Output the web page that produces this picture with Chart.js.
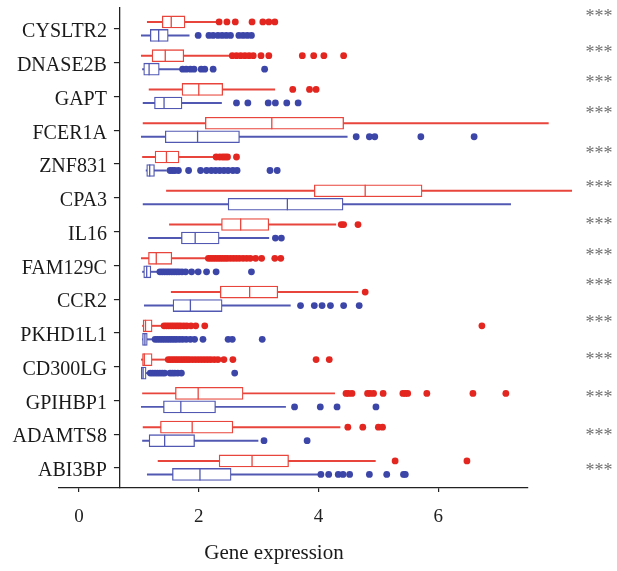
<!DOCTYPE html>
<html>
<head>
<meta charset="utf-8">
<script src="https://cdn.jsdelivr.net/npm/chart.js@4.4.1/dist/chart.umd.min.js"></script>
<style>
  body { margin: 0; background: #fff; }
  #wrap { width: 617px; height: 571px; position: relative; }
</style>
</head>
<body>
<div id="wrap"><canvas id="chart"></canvas></div>
<script>
// Genes, top to bottom
const genes = ['CYSLTR2', 'DNASE2B', 'GAPT', 'FCER1A', 'ZNF831', 'CPA3', 'IL16',
  'FAM129C', 'CCR2', 'PKHD1L1', 'CD300LG', 'GPIHBP1', 'ADAMTS8', 'ABI3BP'];

// [whisker low, Q1, median, Q3, whisker high]
const redStats = [
  [1.14, 1.39, 1.54, 1.77, 2.29],
  [1.04, 1.22, 1.44, 1.75, 2.52],
  [1.17, 1.72, 2.00, 2.40, 3.27],
  [1.07, 2.11, 3.22, 4.42, 7.84],
  [1.06, 1.27, 1.46, 1.67, 2.24],
  [1.46, 3.93, 4.78, 5.73, 8.23],
  [1.51, 2.38, 2.70, 3.17, 4.29],
  [1.04, 1.16, 1.29, 1.55, 2.13],
  [1.54, 2.36, 2.85, 3.32, 4.66],
  [1.06, 1.07, 1.11, 1.22, 1.39],
  [1.04, 1.06, 1.09, 1.22, 1.46],
  [1.06, 1.61, 1.99, 2.74, 4.27],
  [1.07, 1.36, 1.89, 2.57, 4.36],
  [1.32, 2.34, 2.89, 3.50, 4.95]
];
const blueStats = [
  [1.04, 1.19, 1.33, 1.49, 1.84],
  [1.06, 1.08, 1.17, 1.34, 1.68],
  [1.07, 1.26, 1.42, 1.72, 2.38],
  [1.04, 1.44, 1.98, 2.68, 4.48],
  [1.12, 1.13, 1.18, 1.26, 1.46],
  [1.07, 2.49, 3.48, 4.41, 7.21],
  [1.16, 1.71, 1.94, 2.34, 3.17],
  [1.06, 1.08, 1.13, 1.20, 1.32],
  [1.09, 1.57, 1.86, 2.39, 3.53],
  [1.06, 1.06, 1.10, 1.14, 1.25],
  [1.04, 1.04, 1.07, 1.12, 1.17],
  [1.04, 1.41, 1.70, 2.28, 3.45],
  [1.06, 1.17, 1.43, 1.93, 2.99],
  [1.14, 1.56, 2.02, 2.54, 4.02]
];

// outliers per gene
const redOut = [
  [2.34, 2.47, 2.61, 2.89, 3.07, 3.17, 3.27],
  [2.56, 2.63, 2.70, 2.77, 2.84, 2.91, 3.04, 3.17, 3.73, 3.92, 4.09, 4.42],
  [3.57, 3.85, 3.96],
  [],
  [2.29, 2.35, 2.40, 2.44, 2.48, 2.63],
  [],
  [4.38, 4.42, 4.66],
  [2.16, 2.20, 2.24, 2.28, 2.32, 2.36, 2.40, 2.44, 2.48, 2.53, 2.58, 2.63, 2.68, 2.74, 2.80, 2.86, 2.95, 3.05, 3.27, 3.37],
  [4.78],
  [1.42, 1.46, 1.50, 1.54, 1.58, 1.62, 1.66, 1.70, 1.75, 1.80, 1.87, 1.95, 2.10, 6.73],
  [1.49, 1.53, 1.57, 1.61, 1.65, 1.69, 1.73, 1.77, 1.81, 1.85, 1.90, 1.95, 2.00, 2.05, 2.10, 2.15, 2.20, 2.26, 2.32, 2.42, 2.57, 3.96, 4.18],
  [4.46, 4.50, 4.56, 4.82, 4.86, 4.92, 5.08, 5.41, 5.45, 5.49, 5.81, 6.58, 7.13],
  [4.49, 4.74, 5.00, 5.07],
  [5.28, 6.48]
];
const blueOut = [
  [1.99, 2.17, 2.24, 2.32, 2.39, 2.46, 2.53, 2.67, 2.74, 2.81, 2.88],
  [1.73, 1.79, 1.86, 1.92, 2.04, 2.10, 2.24, 3.10],
  [2.63, 2.82, 3.16, 3.28, 3.47, 3.66],
  [4.63, 4.85, 4.94, 5.71, 6.60],
  [1.52, 1.56, 1.60, 1.66, 1.83, 2.03, 2.13, 2.21, 2.28, 2.35, 2.42, 2.49, 2.57, 2.64, 3.19, 3.31],
  [],
  [3.28, 3.38],
  [1.35, 1.39, 1.43, 1.47, 1.51, 1.55, 1.59, 1.63, 1.67, 1.72, 1.78, 1.88, 1.99, 2.13, 2.29, 2.88],
  [3.70, 3.93, 4.06, 4.20, 4.42, 4.68],
  [1.27, 1.31, 1.35, 1.39, 1.43, 1.47, 1.51, 1.55, 1.59, 1.63, 1.68, 1.73, 1.79, 1.86, 1.93, 2.07, 2.49, 2.56, 3.06],
  [1.19, 1.23, 1.27, 1.31, 1.35, 1.39, 1.43, 1.52, 1.56, 1.60, 1.65, 1.71, 2.60],
  [3.60, 4.03, 4.31, 4.96],
  [3.09, 3.81],
  [4.04, 4.17, 4.33, 4.41, 4.52, 4.85, 5.14, 5.42, 5.45]
];

const xTicks = [0, 2, 4, 6];
const sigLabels = genes.map(() => '***');

// where the *** marks sit (in row units, they are not exactly on the rows)
const starRows = [-0.44, 0.62, 1.52, 2.43, 3.61, 4.62, 5.72, 6.63, 7.52, 8.62, 9.71, 10.84, 11.96, 13.0];

// the y axis line crosses the x axis here (x value)
const yAxisAt = 0.683;

const serif = '"Liberation Serif", "DejaVu Serif", serif';

function boxDatasets(stats, outs, off, lineColor, dotColor) {
  return [
    {
      type: 'scatter', order: 1, indexAxis: 'x', clip: false,
      data: outs.flatMap((arr, i) => arr.map(v => ({ x: v, y: i + off }))),
      backgroundColor: dotColor, borderWidth: 0, pointRadius: 3.4
    },
    {
      type: 'scatter', order: 2, indexAxis: 'x', clip: false,
      data: stats.map((s, i) => ({ x: s[2], y: i + off })),
      pointStyle: 'line', rotation: 90, pointRadius: 6,
      borderColor: lineColor, borderWidth: 1.3
    },
    {
      type: 'bar', order: 3, clip: false, grouped: false,
      data: stats.map((s, i) => ({ x: [s[1], s[3]], y: i + off })),
      backgroundColor: '#fff', borderColor: lineColor, borderWidth: 1.3,
      borderSkipped: false, barThickness: 12
    },
    {
      type: 'bar', order: 4, clip: false, grouped: false,
      data: stats.map((s, i) => ({ x: [s[0], s[4]], y: i + off })),
      backgroundColor: lineColor, borderWidth: 0, barThickness: 1.3
    }
  ];
}

// y axis takes no room in the layout, then gets moved onto x = yAxisAt
const moveYAxis = {
  id: 'moveYAxis',
  afterLayout(chart) {
    const y = chart.scales.y;
    const px = chart.scales.x.getPixelForValue(yAxisAt);
    y.left = px - 110;
    y.right = px;
    y.width = 110;
  }
};

const extras = {
  id: 'extras',
  afterDraw(chart) {
    const { ctx, scales: { y } } = chart;
    ctx.save();
    // tick marks on the y axis, one per gene
    ctx.strokeStyle = '#222';
    ctx.lineWidth = 1.2;
    genes.forEach((g, i) => {
      const py = Math.round(y.getPixelForValue(i) - 0.6) + 0.6;
      ctx.beginPath();
      ctx.moveTo(y.right - 6, py);
      ctx.lineTo(y.right, py);
      ctx.stroke();
    });
    ctx.fillStyle = '#707070';
    ctx.font = '18px ' + serif;
    ctx.textAlign = 'center';
    ctx.textBaseline = 'middle';
    sigLabels.forEach((t, i) => ctx.fillText(t, 599, y.getPixelForValue(starRows[i]) + 3));
    ctx.fillStyle = '#1a1a1a';
    ctx.font = '21px ' + serif;
    ctx.fillText('Gene expression', 274, 553);
    ctx.restore();
  }
};

new Chart(document.getElementById('chart'), {
  type: 'bar',
  data: {
    datasets: [
      ...boxDatasets(redStats, redOut, -0.21, '#e8453c', '#e3261f'),
      ...boxDatasets(blueStats, blueOut, 0.19, '#5158b2', '#3c45a8')
    ]
  },
  options: {
    indexAxis: 'y',
    responsive: true,
    maintainAspectRatio: false,
    animation: false,
    layout: { padding: { left: 59, right: 89, top: 8, bottom: 0 } },
    plugins: { legend: { display: false }, tooltip: { enabled: false } },
    scales: {
      x: {
        type: 'linear',
        min: -0.335,
        max: 7.5,
        afterBuildTicks: s => { s.ticks = xTicks.map(v => ({ value: v })); },
        afterFit: s => { s.height = 83; s.paddingLeft = 0; s.paddingRight = 0; },
        grid: { drawOnChartArea: false, tickLength: 4, color: '#222', lineWidth: 1.2 },
        border: { display: true, color: '#222', width: 1.3 },
        ticks: { color: '#222', font: { family: serif, size: 19 }, padding: 14 }
      },
      y: {
        type: 'linear',
        position: 'left',
        reverse: true,
        min: -0.622,
        max: 13.592,
        offset: false,
        afterBuildTicks: s => { s.ticks = genes.map((g, i) => ({ value: i })); },
        afterFit: s => { s.width = 0; s.paddingTop = 0; s.paddingBottom = 0; },
        grid: { drawOnChartArea: false, drawTicks: false, offset: false, color: '#222', lineWidth: 1.2 },
        border: { display: true, color: '#222', width: 1.3 },
        ticks: {
          color: '#1a1a1a', font: { family: serif, size: 20 }, padding: 13, labelOffset: 3,
          callback: v => genes[v]
        }
      }
    }
  },
  plugins: [moveYAxis, extras]
});
</script>
</body>
</html>
